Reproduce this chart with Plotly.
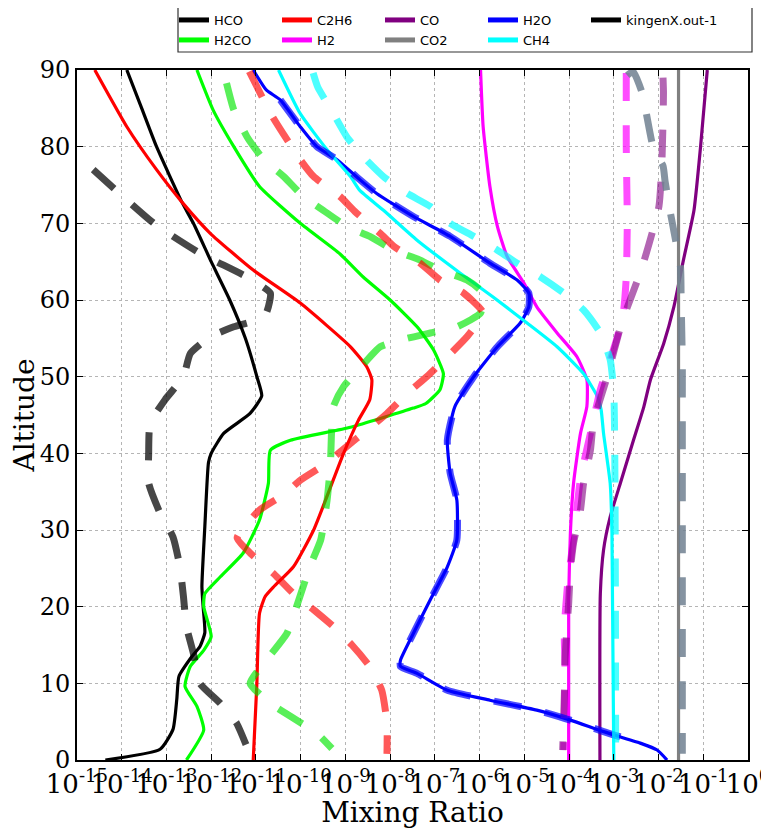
import plotly.graph_objects as go

# ---------------- data (altitude, mixing ratio) ----------------
# solid curves: kingenX.out-1 model
hco_alt = [90, 85, 80, 72.8, 70, 65, 60, 55, 50, 47.5, 45.2, 42.6, 40, 38.8, 30.4, 22.6, 20, 16.6, 14.8, 13.5, 10.9, 7.9, 4, 1.4, 0]
hco_mr = [1.3e-14, 2.8e-14, 6.0e-14, 2.2e-13, 4.0e-13, 1.0e-12, 2.6e-12, 5.8e-12, 1.05e-11, 1.35e-11, 7.4e-12, 1.9e-12, 1.0e-12, 8.7e-13, 7.2e-13, 6.2e-13, 6.6e-13, 7.2e-13, 5.6e-13, 3.7e-13, 1.9e-13, 1.7e-13, 1.4e-13, 7.2e-14, 4.3e-15]

c2h6_alt = [90, 82.6, 77, 72.8, 68.7, 63.9, 59.6, 53.9, 51.3, 49.6, 47, 44.3, 40, 30, 25.2, 22.6, 21.3, 19.1, 10, 0]
c2h6_mr = [2.5e-15, 1.3e-14, 6.0e-14, 2.2e-13, 9.5e-13, 8.7e-12, 9.8e-11, 1.3e-9, 3.0e-9, 3.9e-9, 3.5e-9, 1.95e-9, 9.1e-10, 1.95e-10, 6.9e-11, 2.5e-11, 1.6e-11, 1.2e-11, 1.05e-11, 8.7e-12]

h2co_alt = [90, 84.8, 80, 74.8, 70, 66, 63, 60, 56.5, 53.5, 50.4, 48.3, 46.5, 45.9, 43.4, 41.7, 40.4, 36.1, 31.3, 27, 23.9, 21.7, 20, 16.1, 14.3, 12.2, 9.6, 7, 3.9, 0]
h2co_mr = [4.8e-13, 1.1e-12, 3.2e-12, 1.2e-11, 9.8e-11, 7.6e-10, 2.5e-9, 1.0e-8, 4.0e-8, 9.3e-8, 1.55e-7, 1.3e-7, 6.3e-8, 3.3e-8, 1.3e-9, 5.9e-11, 2.1e-11, 1.9e-11, 1.2e-11, 5.2e-12, 1.6e-12, 7.2e-13, 6.8e-13, 1.0e-12, 6.8e-13, 3.4e-13, 2.6e-13, 4.8e-13, 6.8e-13, 2.8e-13]

h2_alt = [90, 82.6, 74.8, 69.6, 65.7, 62.2, 59.1, 55.7, 52.6, 49.6, 46.1, 42.6, 36.1, 29.6, 20.9, 0]
h2_mr = [1.05e-6, 1.2e-6, 1.7e-6, 2.5e-6, 4.1e-6, 9.8e-6, 1.9e-5, 5.4e-5, 1.5e-4, 2.5e-4, 2.5e-4, 1.8e-4, 1.26e-4, 1.07e-4, 9.8e-5, 9.8e-5]

co_alt = [90, 80, 71.7, 65.2, 59.1, 54.3, 49.6, 46.1, 41.7, 36.1, 31.7, 27.4, 21.7, 0]
co_mr = [0.123, 8.7e-2, 6.2e-2, 3.6e-2, 2.2e-2, 1.3e-2, 6.6e-3, 4.7e-3, 2.75e-3, 1.4e-3, 8.3e-4, 5.9e-4, 5.0e-4, 4.9e-4]

co2_alt = [90, 0]
co2_mr = [2.8e-2, 2.8e-2]

h2o_alt = [90, 87.4, 86.1, 82.6, 80, 78.3, 75.7, 73.9, 70.9, 68.3, 64.8, 62.6, 60.9, 59.1, 57, 53.9, 50, 46.1, 41.7, 37.4, 33.9, 28.7, 25.2, 20.9, 16.5, 13, 12.2, 11.3, 9.1, 7.8, 6.5, 5.2, 3.7, 2.2, 1.3, 0]
h2o_mr = [8.7e-12, 1.7e-11, 3.5e-11, 9.8e-11, 2.3e-10, 6.5e-10, 2.1e-9, 5.0e-9, 3.3e-8, 2.2e-7, 1.7e-6, 6.9e-6, 1.26e-5, 1.26e-5, 8.1e-6, 2.5e-6, 7.4e-7, 2.8e-7, 1.9e-7, 2.2e-7, 3.1e-7, 3.1e-7, 1.9e-7, 7.9e-8, 3.3e-8, 1.7e-8, 1.7e-8, 4.0e-8, 1.9e-7, 1.7e-6, 1.9e-5, 1.07e-4, 5.9e-4, 3.9e-3, 9.3e-3, 1.55e-2]

ch4_alt = [90, 84.3, 79.6, 76.1, 74.3, 71.7, 67.8, 63.5, 60.4, 57, 53.9, 50.4, 47.4, 45.7, 42.6, 36.1, 29.6, 0]
ch4_mr = [3.2e-11, 9.8e-11, 3.9e-10, 1.3e-9, 2.1e-9, 7.1e-9, 4.0e-8, 3.7e-7, 2.0e-6, 1.15e-5, 5.4e-5, 2.1e-4, 4.3e-4, 5.2e-4, 5.9e-4, 8.3e-4, 9.1e-4, 1.0e-3]

# dashed curves: reference profiles
hco_ref_alt = [77, 69.9, 66.1, 63, 60.9, 58.3, 57.4, 56.5, 55.2, 53, 50, 47, 43.9, 40, 36.1, 32.2, 29.1, 25.2, 21.3, 17.4, 13.9, 10, 7.4, 4.8, 2.0]
hco_ref_mr = [2.3e-15, 5.5e-14, 5.6e-13, 6.3e-12, 2.1e-11, 1.7e-11, 1.05e-11, 3.2e-12, 9.5e-13, 3.4e-13, 2.4e-13, 9.3e-14, 4.3e-14, 4.0e-14, 4.0e-14, 7.2e-14, 1.4e-13, 2.0e-13, 2.4e-13, 2.8e-13, 4.0e-13, 5.6e-13, 1.6e-12, 3.7e-12, 6.0e-12]

c2h6_ref_alt = [89.8, 84, 78.3, 76.1, 73.5, 71.5, 68.7, 67, 64.8, 62.6, 60.9, 58.3, 55.2, 52.6, 50, 47.8, 45.2, 43, 40.9, 38.7, 36.5, 34.6, 32.6, 29, 27, 24.3, 21.7, 19.6, 17.4, 15, 12.2, 9.1, 4.8, 0.8]
c2h6_ref_mr = [7.1e-12, 2.3e-11, 9.8e-11, 1.95e-10, 7.6e-10, 1.66e-9, 6.0e-9, 1.2e-8, 4.7e-8, 1.3e-7, 4.4e-7, 1.2e-6, 5.2e-7, 1.9e-7, 6.6e-8, 2.4e-8, 8.5e-9, 3.0e-9, 1.07e-9, 3.8e-10, 9.8e-11, 4.2e-11, 1.2e-11, 3.8e-12, 7.4e-12, 2.5e-11, 6.9e-11, 1.95e-10, 5.4e-10, 1.4e-9, 3.5e-9, 6.5e-9, 8.5e-9, 8.5e-9]

h2co_ref_alt = [88.3, 84.8, 81.3, 78.3, 76.1, 73.5, 71.7, 69.6, 68.3, 66.5, 65.2, 63.9, 62.6, 60.9, 58.3, 56.5, 55.7, 55, 53.9, 51.7, 48.7, 46.1, 38.3, 33.9, 28.7, 25.2, 20, 16.5, 13, 10, 7.4, 5.7, 3.5, 1.5]
h2co_ref_mr = [2.2e-12, 3.2e-12, 6.3e-12, 1.5e-11, 4.2e-11, 1.15e-10, 3.2e-10, 1.07e-9, 3.5e-9, 1.2e-8, 4.7e-8, 1.3e-7, 5.2e-7, 1.2e-6, 1.05e-6, 3.1e-7, 7.9e-8, 2.4e-8, 6.0e-9, 2.6e-9, 9.1e-10, 5.4e-10, 4.6e-10, 3.9e-10, 2.8e-10, 1.6e-10, 8.1e-11, 4.9e-11, 1.7e-11, 7.4e-12, 2.1e-11, 5.9e-11, 2.3e-10, 5.0e-10]

h2_ref_alt = [89.6, 80, 70, 63, 58.7, 55.2, 52.2, 48.3, 42.6, 36.7, 28.9, 23, 17, 12.2, 1.3]
h2_ref_mr = [1.9e-3, 1.9e-3, 2.0e-3, 1.9e-3, 1.66e-3, 1.2e-3, 8.3e-4, 5.0e-4, 3.0e-4, 1.8e-4, 1.26e-4, 9.3e-5, 7.8e-5, 8.1e-5, 7.6e-5]

co_ref_alt = [89, 87, 78.7, 72.2, 64.3, 57, 50, 44, 40.4, 36, 32.6, 28.3, 24.8, 20.4, 17, 13, 9, 1.3]
co_ref_mr = [1.26e-2, 1.29e-2, 1.2e-2, 1.02e-2, 4.3e-3, 1.5e-3, 7.1e-4, 3.5e-4, 3.0e-4, 2.1e-4, 1.8e-4, 1.26e-4, 1.07e-4, 9.8e-5, 8.9e-5, 8.1e-5, 7.9e-5, 7.2e-5]

co2_ref_alt = [89.3, 89.8, 87, 79.5, 77.5, 75.5, 71.7, 67.8, 64.3, 60, 52, 47, 0.8]
co2_ref_mr = [2.0e-3, 2.7e-3, 4.3e-3, 7.9e-3, 1.26e-2, 1.4e-2, 1.8e-2, 2.4e-2, 3.1e-2, 3.2e-2, 3.4e-2, 3.4e-2, 3.4e-2]

h2o_ref_alt = [86.1, 82.6, 80, 78.3, 75.7, 73.9, 70.9, 68.3, 64.8, 62.6, 60.9, 59.1, 57, 53.9, 50, 46.1, 41.7, 37.4, 33.9, 28.7, 25.2, 20.9, 16.5, 13, 12.2, 11.3, 9.1, 7.8, 6.5, 5.2, 3.7, 2.2]
h2o_ref_mr = [3.5e-11, 9.8e-11, 2.3e-10, 6.5e-10, 2.1e-9, 5.0e-9, 3.3e-8, 2.2e-7, 1.7e-6, 6.9e-6, 1.26e-5, 1.26e-5, 8.1e-6, 2.5e-6, 7.4e-7, 2.8e-7, 1.9e-7, 2.2e-7, 3.1e-7, 3.1e-7, 1.9e-7, 7.9e-8, 3.3e-8, 1.7e-8, 1.7e-8, 4.0e-8, 1.9e-7, 1.7e-6, 1.9e-5, 1.07e-4, 5.9e-4, 3.9e-3]

ch4_ref_alt = [89.6, 87.8, 84.3, 81.3, 78.7, 76.1, 73.9, 72.2, 70, 68.3, 66.5, 64.8, 63, 60.9, 58.7, 55.7, 52.2, 47.8, 0.5]
ch4_ref_mr = [1.9e-10, 2.4e-10, 5.4e-10, 1.07e-9, 2.5e-9, 7.1e-9, 2.4e-8, 7.9e-8, 2.2e-7, 7.4e-7, 2.5e-6, 6.9e-6, 2.3e-5, 7.6e-5, 2.1e-4, 5.0e-4, 8.3e-4, 1.0e-3, 1.1e-3]

x_tick_vals = [1e-15, 1e-14, 1e-13, 1e-12, 1e-11, 1e-10, 1e-9, 1e-8, 1e-7, 1e-6, 1e-5, 1e-4, 1e-3, 1e-2, 1e-1, 1e0]
x_tick_text = ["10<sup>-15</sup>", "10<sup>-14</sup>", "10<sup>-13</sup>", "10<sup>-12</sup>", "10<sup>-11</sup>",
               "10<sup>-10</sup>", "10<sup>-9</sup>", "10<sup>-8</sup>", "10<sup>-7</sup>", "10<sup>-6</sup>",
               "10<sup>-5</sup>", "10<sup>-4</sup>", "10<sup>-3</sup>", "10<sup>-2</sup>", "10<sup>-1</sup>", "10<sup>0</sup>"]
y_tick_vals = [0, 10, 20, 30, 40, 50, 60, 70, 80, 90]

# ---------------- figure ----------------
species = [
    # name, solid x, solid y, ref x, ref y, color, ref color, legend, legend rank
    ("HCO", hco_mr, hco_alt, hco_ref_mr, hco_ref_alt, "black", "rgba(0,0,0,0.72)", "legend", 1),
    ("H2CO", h2co_mr, h2co_alt, h2co_ref_mr, h2co_ref_alt, "#00ff00", "rgba(0,230,0,0.65)", "legend2", 1),
    ("C2H6", c2h6_mr, c2h6_alt, c2h6_ref_mr, c2h6_ref_alt, "red", "rgba(255,0,0,0.65)", "legend", 2),
    ("H2", h2_mr, h2_alt, h2_ref_mr, h2_ref_alt, "magenta", "rgba(255,0,255,0.7)", "legend2", 2),
    ("CO", co_mr, co_alt, co_ref_mr, co_ref_alt, "purple", "rgba(128,0,128,0.6)", "legend", 3),
    ("CO2", co2_mr, co2_alt, co2_ref_mr, co2_ref_alt, "gray", "rgba(112,128,144,0.85)", "legend2", 3),
    ("H2O", h2o_mr, h2o_alt, h2o_ref_mr, h2o_ref_alt, "blue", "rgba(0,0,255,0.7)", "legend", 4),
    ("CH4", ch4_mr, ch4_alt, ch4_ref_mr, ch4_ref_alt, "cyan", "rgba(0,255,255,0.7)", "legend2", 4),
]

fig = go.Figure()

for name, xs, ys, rx, ry, col, rcol, leg, rank in species:
    fig.add_trace(go.Scatter(
        x=xs, y=ys, mode="lines", name=name, legend=leg, legendrank=rank,
        line=dict(color=col, width=3.2, shape="spline", smoothing=0.5),
    ))

for name, xs, ys, rx, ry, col, rcol, leg, rank in species:
    fig.add_trace(go.Scatter(
        x=rx, y=ry, mode="lines", name=name + " ref", showlegend=False,
        line=dict(color=rcol, width=7, dash="28px,24px", shape="spline", smoothing=0.5),
    ))

fig.add_trace(go.Scatter(
    x=[None], y=[None], mode="lines", name="kingenX.out-1", legend="legend", legendrank=5,
    legendwidth=100,
    line=dict(color="black", width=1.2),
))

axis_common = dict(
    showline=True, linecolor="black", linewidth=2, mirror="ticks",
    ticks="inside", ticklen=6, tickwidth=1, tickcolor="black",
    showgrid=True, gridcolor="#b5b5b5", gridwidth=1, griddash="dot",
    zeroline=False, ticklabeloverflow="allow",
)

# page has an 8px body margin; the figure is sized so the plot area lands at x 77-748, y 70-760
W, H = 761, 821
ML, MR, MT, MB = 69, 21, 62, 69
PW, PH = W - ML - MR, H - MT - MB


def px_x(p):
    return (p - 8 - ML) / PW


def px_y(p):
    return (H - MB + 8 - p) / PH


legend_common = dict(
    orientation="h", xanchor="left", yanchor="top",
    entrywidth=58, entrywidthmode="pixels",
    font=dict(family="DejaVu Sans", size=13, color="black"),
    borderwidth=0, bgcolor="rgba(0,0,0,0)",
    traceorder="normal", itemsizing="constant",
)

fig.update_layout(
    width=W, height=H,
    margin=dict(l=ML, r=MR, t=MT, b=MB, autoexpand=False),
    paper_bgcolor="white", plot_bgcolor="white",
    showlegend=True,
    legend=dict(x=px_x(174), y=px_y(5), **legend_common),
    legend2=dict(x=px_x(174), y=px_y(25), **legend_common),
    shapes=[dict(
        type="rect", xref="paper", yref="paper",
        x0=px_x(178), x1=px_x(752), y0=px_y(52), y1=px_y(6),
        line=dict(color="#333333", width=1.2), fillcolor="white", layer="below",
    )],
    xaxis=dict(
        type="log", range=[-15, 0],
        tickvals=x_tick_vals, ticktext=x_tick_text, tickangle=0,
        tickfont=dict(family="DejaVu Serif", size=26, color="black"),
        title=dict(text="Mixing Ratio", font=dict(family="DejaVu Serif", size=28, color="black"), standoff=0),
        **axis_common,
    ),
    yaxis=dict(
        range=[0, 90], tickvals=y_tick_vals,
        tickfont=dict(family="DejaVu Serif", size=24, color="black"),
        title=dict(text="Altitude", font=dict(family="DejaVu Serif", size=28, color="black"), standoff=6),
        **axis_common,
    ),
)

fig.write_html("out.html")
